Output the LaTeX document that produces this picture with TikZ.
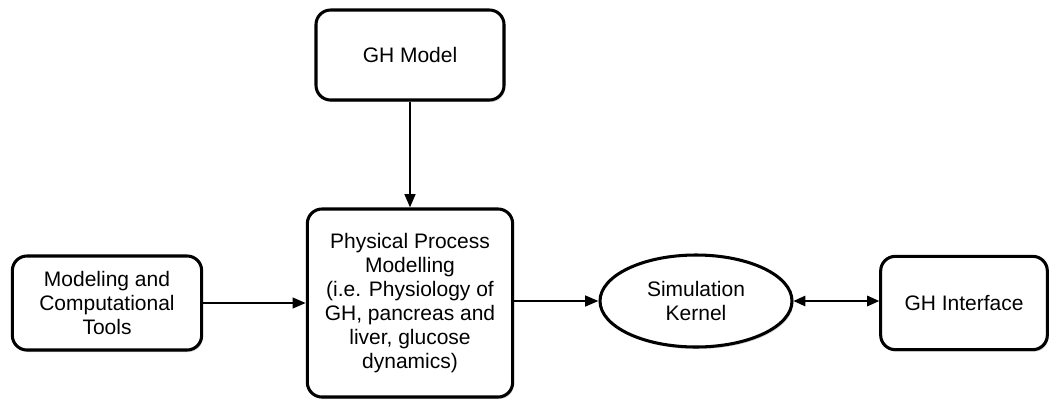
\documentclass[tikz,border=0pt]{standalone}
\usepackage{fontspec}
\setmainfont{Liberation Sans}
\usepackage{tikz}
\usetikzlibrary{shadows}
\usetikzlibrary{arrows.meta,shapes}
\usetikzlibrary{calc}
\tikzstyle{block}=[rectangle,rounded corners=11pt,draw,line width=2.3pt,fill=white,align=center,inner sep=2pt,
  drop shadow={shadow xshift=1pt,shadow yshift=-1.5pt,opacity=0.35}]
\tikzstyle{kernel}=[ellipse,draw,line width=2.3pt,fill=white,align=center,inner sep=0pt,
  drop shadow={shadow xshift=1pt,shadow yshift=-1.5pt,opacity=0.35}]
\tikzstyle{edge} = [draw,line width=1.8pt,-{Triangle[length=10pt,width=8pt]}]
\tikzstyle{twoway} = [draw,line width=0.9pt,{Triangle[length=9pt,width=8pt]}-{Triangle[length=9pt,width=8pt]}]

\begin{document}
\begin{tikzpicture}[x=0.75bp,y=-0.75bp,font=\fontsize{15.8}{18}\selectfont]
    \useasboundingbox (0,0) rectangle (1060,400);
    % First we draw the blocks
    \node[block,minimum width=141bp,minimum height=67.5bp] (model) at (410,55) {GH Model};
    \node[block,minimum width=154bp,minimum height=141bp] (phys) at (410,303)
        {Physical Process\\Modelling\\(i.e. Physiology of\\GH, pancreas and\\liver, glucose\\dynamics)};
    \node[block,minimum width=142bp,minimum height=70.5bp] (tools) at (107,303)
        {Modeling and\\Computational\\Tools};
    \node[kernel,minimum width=144bp,minimum height=69bp] (sim) at (696,301) {Simulation\\Kernel};
    \node[block,minimum width=125bp,minimum height=70bp] (iface) at (964,303) {GH Interface};

    % Connect blocks with arrows
    \foreach \source/ \dest in {model/phys, tools/phys}
        \path[edge] (\source) -- (\dest);
    \path[edge] (phys.east |- sim.west) -- (sim.west);
    \path[twoway] (sim.east) -- (iface.west |- sim.east);

\end{tikzpicture}
\end{document}
